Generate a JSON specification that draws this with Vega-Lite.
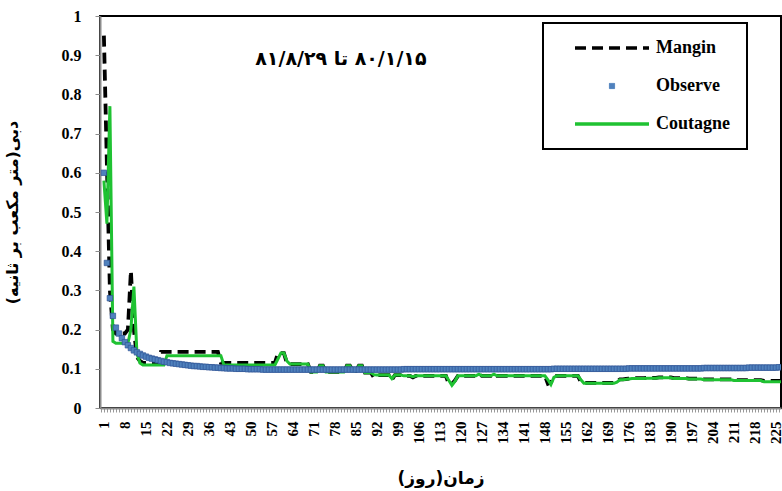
{
  "$schema": "https://vega.github.io/schema/vega-lite/v6.json",
  "width": 681,
  "height": 392,
  "autosize": {"type": "none"},
  "padding": {"left": 100, "top": 16, "right": 1, "bottom": 83},
  "background": "white",
  "config": {
    "view": {"stroke": "black", "strokeWidth": 2},
    "axis": {"grid": false}
  },
  "data": {"values": [
    {"d":1,"M":0.95,"O":0.6,"C":0.58},
    {"d":2,"M":0.62,"O":0.37,"C":0.47},
    {"d":3,"M":0.3,"O":0.28,"C":0.77},
    {"d":4,"M":0.2,"O":0.235,"C":0.17},
    {"d":5,"M":0.19,"O":0.205,"C":0.165},
    {"d":6,"M":0.19,"O":0.19,"C":0.165},
    {"d":7,"M":0.19,"O":0.178,"C":0.165},
    {"d":8,"M":0.19,"O":0.168,"C":0.165},
    {"d":9,"M":0.2,"O":0.16,"C":0.165},
    {"d":10,"M":0.35,"O":0.153,"C":0.2},
    {"d":11,"M":0.2,"O":0.147,"C":0.31},
    {"d":12,"M":0.13,"O":0.142,"C":0.14},
    {"d":13,"M":0.12,"O":0.138,"C":0.115},
    {"d":14,"M":0.115,"O":0.134,"C":0.11},
    {"d":15,"M":0.115,"O":0.131,"C":0.11},
    {"d":16,"M":0.115,"O":0.128,"C":0.11},
    {"d":17,"M":0.115,"O":0.126,"C":0.11},
    {"d":18,"M":0.115,"O":0.124,"C":0.11},
    {"d":19,"M":0.115,"O":0.122,"C":0.11},
    {"d":20,"M":0.143,"O":0.12,"C":0.11},
    {"d":21,"M":0.143,"O":0.118,"C":0.11},
    {"d":22,"M":0.143,"O":0.117,"C":0.133},
    {"d":23,"M":0.143,"O":0.115,"C":0.133},
    {"d":24,"M":0.143,"O":0.114,"C":0.133},
    {"d":25,"M":0.143,"O":0.113,"C":0.133},
    {"d":26,"M":0.143,"O":0.112,"C":0.133},
    {"d":27,"M":0.143,"O":0.111,"C":0.133},
    {"d":28,"M":0.143,"O":0.11,"C":0.133},
    {"d":29,"M":0.143,"O":0.109,"C":0.133},
    {"d":30,"M":0.143,"O":0.108,"C":0.133},
    {"d":31,"M":0.143,"O":0.107,"C":0.133},
    {"d":32,"M":0.143,"O":0.107,"C":0.133},
    {"d":33,"M":0.143,"O":0.106,"C":0.133},
    {"d":34,"M":0.143,"O":0.105,"C":0.133},
    {"d":35,"M":0.143,"O":0.105,"C":0.133},
    {"d":36,"M":0.143,"O":0.104,"C":0.133},
    {"d":37,"M":0.143,"O":0.104,"C":0.133},
    {"d":38,"M":0.143,"O":0.103,"C":0.133},
    {"d":39,"M":0.143,"O":0.103,"C":0.133},
    {"d":40,"M":0.115,"O":0.102,"C":0.133},
    {"d":41,"M":0.115,"O":0.102,"C":0.11},
    {"d":42,"M":0.115,"O":0.101,"C":0.11},
    {"d":43,"M":0.115,"O":0.101,"C":0.11},
    {"d":44,"M":0.115,"O":0.101,"C":0.11},
    {"d":45,"M":0.115,"O":0.1,"C":0.11},
    {"d":46,"M":0.115,"O":0.1,"C":0.11},
    {"d":47,"M":0.115,"O":0.1,"C":0.11},
    {"d":48,"M":0.115,"O":0.1,"C":0.11},
    {"d":49,"M":0.115,"O":0.099,"C":0.11},
    {"d":50,"M":0.115,"O":0.099,"C":0.11},
    {"d":51,"M":0.115,"O":0.099,"C":0.11},
    {"d":52,"M":0.115,"O":0.099,"C":0.11},
    {"d":53,"M":0.115,"O":0.099,"C":0.11},
    {"d":54,"M":0.115,"O":0.098,"C":0.11},
    {"d":55,"M":0.115,"O":0.098,"C":0.11},
    {"d":56,"M":0.115,"O":0.098,"C":0.11},
    {"d":57,"M":0.115,"O":0.098,"C":0.11},
    {"d":58,"M":0.115,"O":0.098,"C":0.11},
    {"d":59,"M":0.14,"O":0.098,"C":0.125},
    {"d":60,"M":0.14,"O":0.098,"C":0.14},
    {"d":61,"M":0.14,"O":0.098,"C":0.14},
    {"d":62,"M":0.115,"O":0.098,"C":0.12},
    {"d":63,"M":0.112,"O":0.098,"C":0.112},
    {"d":64,"M":0.112,"O":0.098,"C":0.112},
    {"d":65,"M":0.112,"O":0.098,"C":0.112},
    {"d":66,"M":0.112,"O":0.098,"C":0.112},
    {"d":67,"M":0.112,"O":0.098,"C":0.112},
    {"d":68,"M":0.112,"O":0.098,"C":0.112},
    {"d":69,"M":0.112,"O":0.098,"C":0.112},
    {"d":70,"M":0.092,"O":0.098,"C":0.092},
    {"d":71,"M":0.092,"O":0.098,"C":0.092},
    {"d":72,"M":0.092,"O":0.098,"C":0.092},
    {"d":73,"M":0.108,"O":0.098,"C":0.108},
    {"d":74,"M":0.108,"O":0.098,"C":0.108},
    {"d":75,"M":0.092,"O":0.098,"C":0.092},
    {"d":76,"M":0.092,"O":0.098,"C":0.092},
    {"d":77,"M":0.092,"O":0.098,"C":0.092},
    {"d":78,"M":0.092,"O":0.098,"C":0.092},
    {"d":79,"M":0.092,"O":0.098,"C":0.092},
    {"d":80,"M":0.092,"O":0.098,"C":0.092},
    {"d":81,"M":0.092,"O":0.098,"C":0.092},
    {"d":82,"M":0.108,"O":0.098,"C":0.108},
    {"d":83,"M":0.108,"O":0.098,"C":0.108},
    {"d":84,"M":0.095,"O":0.098,"C":0.095},
    {"d":85,"M":0.095,"O":0.098,"C":0.095},
    {"d":86,"M":0.108,"O":0.098,"C":0.108},
    {"d":87,"M":0.108,"O":0.098,"C":0.108},
    {"d":88,"M":0.09,"O":0.098,"C":0.09},
    {"d":89,"M":0.09,"O":0.098,"C":0.09},
    {"d":90,"M":0.09,"O":0.098,"C":0.09},
    {"d":91,"M":0.078,"O":0.098,"C":0.085},
    {"d":92,"M":0.084,"O":0.098,"C":0.084},
    {"d":93,"M":0.084,"O":0.098,"C":0.084},
    {"d":94,"M":0.084,"O":0.098,"C":0.084},
    {"d":95,"M":0.084,"O":0.098,"C":0.084},
    {"d":96,"M":0.084,"O":0.098,"C":0.084},
    {"d":97,"M":0.072,"O":0.098,"C":0.075},
    {"d":98,"M":0.084,"O":0.098,"C":0.084},
    {"d":99,"M":0.084,"O":0.098,"C":0.084},
    {"d":100,"M":0.084,"O":0.098,"C":0.084},
    {"d":101,"M":0.082,"O":0.099,"C":0.082},
    {"d":102,"M":0.082,"O":0.099,"C":0.082},
    {"d":103,"M":0.082,"O":0.099,"C":0.082},
    {"d":104,"M":0.078,"O":0.099,"C":0.08},
    {"d":105,"M":0.082,"O":0.099,"C":0.082},
    {"d":106,"M":0.082,"O":0.099,"C":0.082},
    {"d":107,"M":0.082,"O":0.099,"C":0.082},
    {"d":108,"M":0.082,"O":0.099,"C":0.082},
    {"d":109,"M":0.082,"O":0.099,"C":0.082},
    {"d":110,"M":0.082,"O":0.099,"C":0.082},
    {"d":111,"M":0.082,"O":0.099,"C":0.082},
    {"d":112,"M":0.082,"O":0.099,"C":0.082},
    {"d":113,"M":0.082,"O":0.099,"C":0.082},
    {"d":114,"M":0.082,"O":0.099,"C":0.082},
    {"d":115,"M":0.082,"O":0.099,"C":0.082},
    {"d":116,"M":0.06,"O":0.099,"C":0.07},
    {"d":117,"M":0.062,"O":0.099,"C":0.058},
    {"d":118,"M":0.07,"O":0.099,"C":0.068},
    {"d":119,"M":0.082,"O":0.099,"C":0.082},
    {"d":120,"M":0.082,"O":0.099,"C":0.082},
    {"d":121,"M":0.082,"O":0.099,"C":0.082},
    {"d":122,"M":0.082,"O":0.099,"C":0.082},
    {"d":123,"M":0.082,"O":0.099,"C":0.082},
    {"d":124,"M":0.082,"O":0.099,"C":0.082},
    {"d":125,"M":0.082,"O":0.099,"C":0.082},
    {"d":126,"M":0.086,"O":0.099,"C":0.086},
    {"d":127,"M":0.082,"O":0.099,"C":0.082},
    {"d":128,"M":0.082,"O":0.099,"C":0.082},
    {"d":129,"M":0.082,"O":0.099,"C":0.082},
    {"d":130,"M":0.082,"O":0.099,"C":0.082},
    {"d":131,"M":0.086,"O":0.099,"C":0.086},
    {"d":132,"M":0.082,"O":0.099,"C":0.082},
    {"d":133,"M":0.082,"O":0.099,"C":0.082},
    {"d":134,"M":0.082,"O":0.099,"C":0.082},
    {"d":135,"M":0.082,"O":0.099,"C":0.082},
    {"d":136,"M":0.082,"O":0.099,"C":0.082},
    {"d":137,"M":0.082,"O":0.099,"C":0.082},
    {"d":138,"M":0.082,"O":0.099,"C":0.082},
    {"d":139,"M":0.082,"O":0.099,"C":0.082},
    {"d":140,"M":0.082,"O":0.099,"C":0.082},
    {"d":141,"M":0.082,"O":0.099,"C":0.082},
    {"d":142,"M":0.082,"O":0.099,"C":0.082},
    {"d":143,"M":0.082,"O":0.099,"C":0.082},
    {"d":144,"M":0.082,"O":0.099,"C":0.082},
    {"d":145,"M":0.082,"O":0.099,"C":0.082},
    {"d":146,"M":0.082,"O":0.099,"C":0.082},
    {"d":147,"M":0.082,"O":0.099,"C":0.082},
    {"d":148,"M":0.082,"O":0.099,"C":0.082},
    {"d":149,"M":0.062,"O":0.099,"C":0.072},
    {"d":150,"M":0.065,"O":0.099,"C":0.06},
    {"d":151,"M":0.08,"O":0.1,"C":0.078},
    {"d":152,"M":0.082,"O":0.1,"C":0.082},
    {"d":153,"M":0.082,"O":0.1,"C":0.082},
    {"d":154,"M":0.082,"O":0.1,"C":0.082},
    {"d":155,"M":0.082,"O":0.1,"C":0.082},
    {"d":156,"M":0.082,"O":0.1,"C":0.082},
    {"d":157,"M":0.082,"O":0.1,"C":0.082},
    {"d":158,"M":0.082,"O":0.1,"C":0.082},
    {"d":159,"M":0.082,"O":0.1,"C":0.082},
    {"d":160,"M":0.066,"O":0.1,"C":0.072},
    {"d":161,"M":0.064,"O":0.1,"C":0.063},
    {"d":162,"M":0.064,"O":0.1,"C":0.063},
    {"d":163,"M":0.064,"O":0.1,"C":0.063},
    {"d":164,"M":0.064,"O":0.1,"C":0.063},
    {"d":165,"M":0.064,"O":0.1,"C":0.063},
    {"d":166,"M":0.064,"O":0.1,"C":0.063},
    {"d":167,"M":0.064,"O":0.1,"C":0.063},
    {"d":168,"M":0.064,"O":0.1,"C":0.063},
    {"d":169,"M":0.064,"O":0.1,"C":0.063},
    {"d":170,"M":0.064,"O":0.1,"C":0.063},
    {"d":171,"M":0.064,"O":0.1,"C":0.063},
    {"d":172,"M":0.068,"O":0.1,"C":0.066},
    {"d":173,"M":0.073,"O":0.1,"C":0.072},
    {"d":174,"M":0.073,"O":0.1,"C":0.072},
    {"d":175,"M":0.074,"O":0.1,"C":0.073},
    {"d":176,"M":0.075,"O":0.101,"C":0.074},
    {"d":177,"M":0.076,"O":0.101,"C":0.075},
    {"d":178,"M":0.076,"O":0.101,"C":0.075},
    {"d":179,"M":0.076,"O":0.101,"C":0.075},
    {"d":180,"M":0.076,"O":0.101,"C":0.075},
    {"d":181,"M":0.076,"O":0.101,"C":0.075},
    {"d":182,"M":0.077,"O":0.101,"C":0.076},
    {"d":183,"M":0.077,"O":0.101,"C":0.076},
    {"d":184,"M":0.077,"O":0.101,"C":0.076},
    {"d":185,"M":0.077,"O":0.101,"C":0.076},
    {"d":186,"M":0.078,"O":0.101,"C":0.077},
    {"d":187,"M":0.078,"O":0.101,"C":0.077},
    {"d":188,"M":0.078,"O":0.101,"C":0.077},
    {"d":189,"M":0.078,"O":0.101,"C":0.077},
    {"d":190,"M":0.078,"O":0.101,"C":0.077},
    {"d":191,"M":0.076,"O":0.101,"C":0.075},
    {"d":192,"M":0.076,"O":0.101,"C":0.075},
    {"d":193,"M":0.076,"O":0.101,"C":0.075},
    {"d":194,"M":0.076,"O":0.101,"C":0.075},
    {"d":195,"M":0.076,"O":0.101,"C":0.075},
    {"d":196,"M":0.075,"O":0.101,"C":0.074},
    {"d":197,"M":0.075,"O":0.101,"C":0.074},
    {"d":198,"M":0.075,"O":0.101,"C":0.074},
    {"d":199,"M":0.075,"O":0.101,"C":0.074},
    {"d":200,"M":0.075,"O":0.101,"C":0.074},
    {"d":201,"M":0.073,"O":0.102,"C":0.072},
    {"d":202,"M":0.073,"O":0.102,"C":0.072},
    {"d":203,"M":0.073,"O":0.102,"C":0.072},
    {"d":204,"M":0.073,"O":0.102,"C":0.072},
    {"d":205,"M":0.073,"O":0.102,"C":0.072},
    {"d":206,"M":0.073,"O":0.102,"C":0.072},
    {"d":207,"M":0.073,"O":0.102,"C":0.072},
    {"d":208,"M":0.073,"O":0.102,"C":0.072},
    {"d":209,"M":0.073,"O":0.102,"C":0.072},
    {"d":210,"M":0.073,"O":0.102,"C":0.072},
    {"d":211,"M":0.071,"O":0.102,"C":0.07},
    {"d":212,"M":0.071,"O":0.102,"C":0.07},
    {"d":213,"M":0.071,"O":0.102,"C":0.07},
    {"d":214,"M":0.071,"O":0.102,"C":0.07},
    {"d":215,"M":0.071,"O":0.102,"C":0.07},
    {"d":216,"M":0.071,"O":0.103,"C":0.07},
    {"d":217,"M":0.071,"O":0.103,"C":0.07},
    {"d":218,"M":0.071,"O":0.103,"C":0.07},
    {"d":219,"M":0.071,"O":0.103,"C":0.07},
    {"d":220,"M":0.071,"O":0.103,"C":0.07},
    {"d":221,"M":0.069,"O":0.103,"C":0.067},
    {"d":222,"M":0.069,"O":0.103,"C":0.067},
    {"d":223,"M":0.069,"O":0.103,"C":0.067},
    {"d":224,"M":0.069,"O":0.103,"C":0.067},
    {"d":225,"M":0.069,"O":0.103,"C":0.067},
    {"d":226,"M":0.069,"O":0.104,"C":0.067},
    {"d":227,"M":0.069,"O":0.104,"C":0.067}
  ]},
  "transform": [{"fold": ["M", "O", "C"], "as": ["s", "v"]}],
  "encoding": {
    "x": {
      "field": "d", "type": "quantitative",
      "scale": {"domain": [-0.3, 226.7], "nice": false, "zero": false},
      "axis": {
        "title": "\u202bزمان(روز)\u202c",
        "tickCount": 227,
        "labelExpr": "(datum.value - 1) % 7 === 0 ? datum.label : ''",
        "labelAngle": 270,
        "labelOverlap": false,
        "labelFlush": false,
        "labelBound": false,
        "tickSize": 4,
        "tickColor": "#999999",
        "domainColor": "#8c8c8c",
        "domainWidth": 2,
        "labelFont": "Liberation Serif",
        "labelFontWeight": "bold",
        "labelFontSize": 15,
        "labelColor": "black",
        "labelPadding": 9,
        "titleFont": "DejaVu Sans",
        "titleFontWeight": "bold",
        "titleFontSize": 17,
        "titleColor": "black",
        "titlePadding": 27
      }
    },
    "y": {
      "field": "v", "type": "quantitative",
      "scale": {"domain": [0, 1], "nice": false},
      "axis": {
        "title": "\u202bدبی(متر مکعب بر ثانیه)\u202c",
        "values": [0, 0.1, 0.2, 0.3, 0.4, 0.5, 0.6, 0.7, 0.8, 0.9, 1],
        "format": ".1~f",
        "tickSize": 5,
        "tickColor": "#8c8c8c",
        "domainColor": "#8c8c8c",
        "domainWidth": 2,
        "labelFont": "Liberation Serif",
        "labelFontWeight": "bold",
        "labelFontSize": 16,
        "labelColor": "black",
        "labelPadding": 14,
        "titleFont": "DejaVu Sans",
        "titleFontWeight": "bold",
        "titleFontSize": 16,
        "titleColor": "black",
        "titlePadding": 41
      }
    },
    "color": {
      "field": "s", "type": "nominal",
      "scale": {"domain": ["M", "O", "C"], "range": ["#000000", "#4F81BD", "#1FC232"]},
      "legend": {
        "orient": "none",
        "legendX": 443,
        "legendY": 7,
        "title": null,
        "labelExpr": "datum.label === 'M' ? 'Mangin' : datum.label === 'O' ? 'Observe' : 'Coutagne\u00a0\u00a0\u00a0\u00a0\u00a0\u00a0\u00a0\u00a0\u00a0\u00a0\u00a0\u00a0\u00a0\u00a0'",
        "labelFont": "Liberation Serif",
        "labelFontWeight": "bold",
        "labelFontSize": 18,
        "labelColor": "black",
        "labelOffset": 35,
        "labelLimit": 400,
        "symbolOffset": 44,
        "symbolType": "stroke",
        "symbolSize": 5476,
        "symbolStrokeWidth": 3.5,
        "rowPadding": 20,
        "padding": 16,
        "strokeColor": "black",
        "fillColor": "white",
        "encode": {
          "legend": {"update": {"strokeWidth": {"value": 2}}},
          "symbols": {"update": {
            "shape": {"signal": "datum.value === 'O' ? 'M-0.07,-0.07H0.07V0.07H-0.07Z' : 'stroke'"},
            "strokeDash": {"signal": "datum.value === 'M' ? [11, 6] : [1, 0]"},
            "strokeWidth": {"signal": "datum.value === 'O' ? 1 : 3.5"},
            "fill": {"signal": "datum.value === 'O' ? '#4F81BD' : 'transparent'"},
            "stroke": {"signal": "datum.value === 'M' ? '#000000' : datum.value === 'O' ? '#2F5597' : '#1FC232'"},
            "opacity": {"value": 1}
          }}
        }
      }
    }
  },
  "layer": [
    {
      "transform": [{"filter": "datum.s === 'M'"}],
      "mark": {"type": "line", "strokeWidth": 3.8, "strokeDash": [11, 6], "clip": true}
    },
    {
      "transform": [{"filter": "datum.s === 'C'"}],
      "mark": {"type": "line", "strokeWidth": 3, "clip": true}
    },
    {
      "transform": [{"filter": "datum.s === 'O'"}],
      "mark": {"type": "square", "size": 30, "filled": true, "opacity": 1, "stroke": "#2F5597", "strokeWidth": 0.7, "clip": true}
    },
    {
      "transform": [{"filter": "datum.s === 'M' && datum.d === 80"}],
      "mark": {"type": "text", "font": "DejaVu Sans", "fontWeight": "bold", "fontSize": 19, "align": "center", "baseline": "middle", "color": "black"},
      "encoding": {
        "x": {"datum": 80, "type": "quantitative"},
        "y": {"datum": 0.89, "type": "quantitative"},
        "text": {"value": "\u202b۸۰/۱/۱۵ تا ۸۱/۸/۲۹\u202c"},
        "color": {"value": "black"}
      }
    }
  ]
}
